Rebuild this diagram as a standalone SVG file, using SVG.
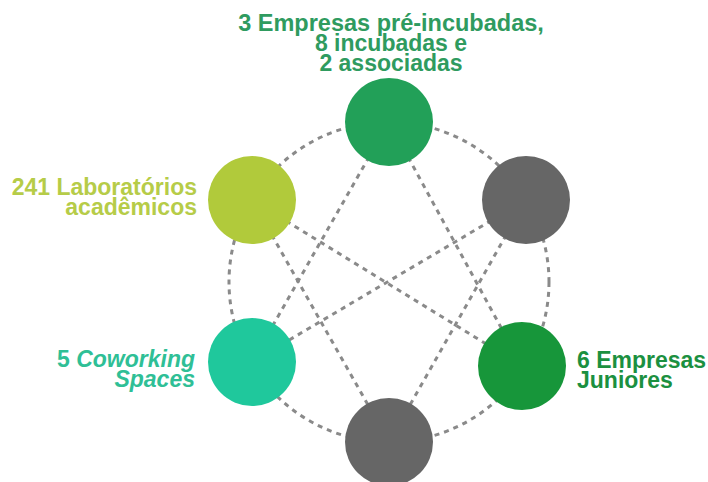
<svg xmlns="http://www.w3.org/2000/svg" width="708" height="482" viewBox="0 0 708 482">
<style>
.c{stroke:#8a8a8a;stroke-width:3;stroke-dasharray:5 5;fill:none}
.t{font-family:"Liberation Sans",Arial,sans-serif;font-weight:bold;font-size:23px}
</style>
<rect width="708" height="482" fill="#ffffff"/>
<g id="connectors">
<circle class="c" cx="389" cy="282" r="160"/>
<line class="c" x1="389" y1="122" x2="252" y2="362"/>
<line class="c" x1="389" y1="122" x2="522" y2="366"/>
<line class="c" x1="252" y1="200" x2="522" y2="366"/>
<line class="c" x1="252" y1="200" x2="389" y2="442"/>
<line class="c" x1="526" y1="200" x2="252" y2="362"/>
<line class="c" x1="526" y1="200" x2="389" y2="442"/>
</g>
<g id="incubadas">
<circle cx="389" cy="122" r="44" fill="#22a058"/>
<text class="t" fill="#2f9b5f" text-anchor="middle"><tspan x="391" y="31" font-size="23.5">3 Empresas pré-incubadas,</tspan><tspan x="391" y="51">8 incubadas e</tspan><tspan x="391" y="71">2 associadas</tspan></text>
</g>
<g id="laboratorios">
<circle cx="252" cy="200" r="44" fill="#b1ca3b"/>
<text class="t" fill="#b6cc48" text-anchor="end"><tspan x="197" y="195">241 Laboratórios</tspan><tspan x="197" y="215">acadêmicos</tspan></text>
</g>
<g id="gray-top">
<circle cx="526" cy="200" r="44" fill="#666666"/>
</g>
<g id="coworking">
<circle cx="252" cy="362" r="44" fill="#1fc89c"/>
<text class="t" fill="#2fbf96" text-anchor="end"><tspan x="195" y="367">5 <tspan font-style="italic">Coworking</tspan></tspan><tspan x="195" y="387" font-style="italic">Spaces</tspan></text>
</g>
<g id="juniores">
<circle cx="522" cy="366" r="44" fill="#17963a"/>
<text class="t" fill="#1b9040"><tspan x="577" y="368">6 Empresas</tspan><tspan x="577" y="388">Juniores</tspan></text>
</g>
<g id="gray-bottom">
<circle cx="389" cy="442" r="44" fill="#666666"/>
</g>
</svg>
